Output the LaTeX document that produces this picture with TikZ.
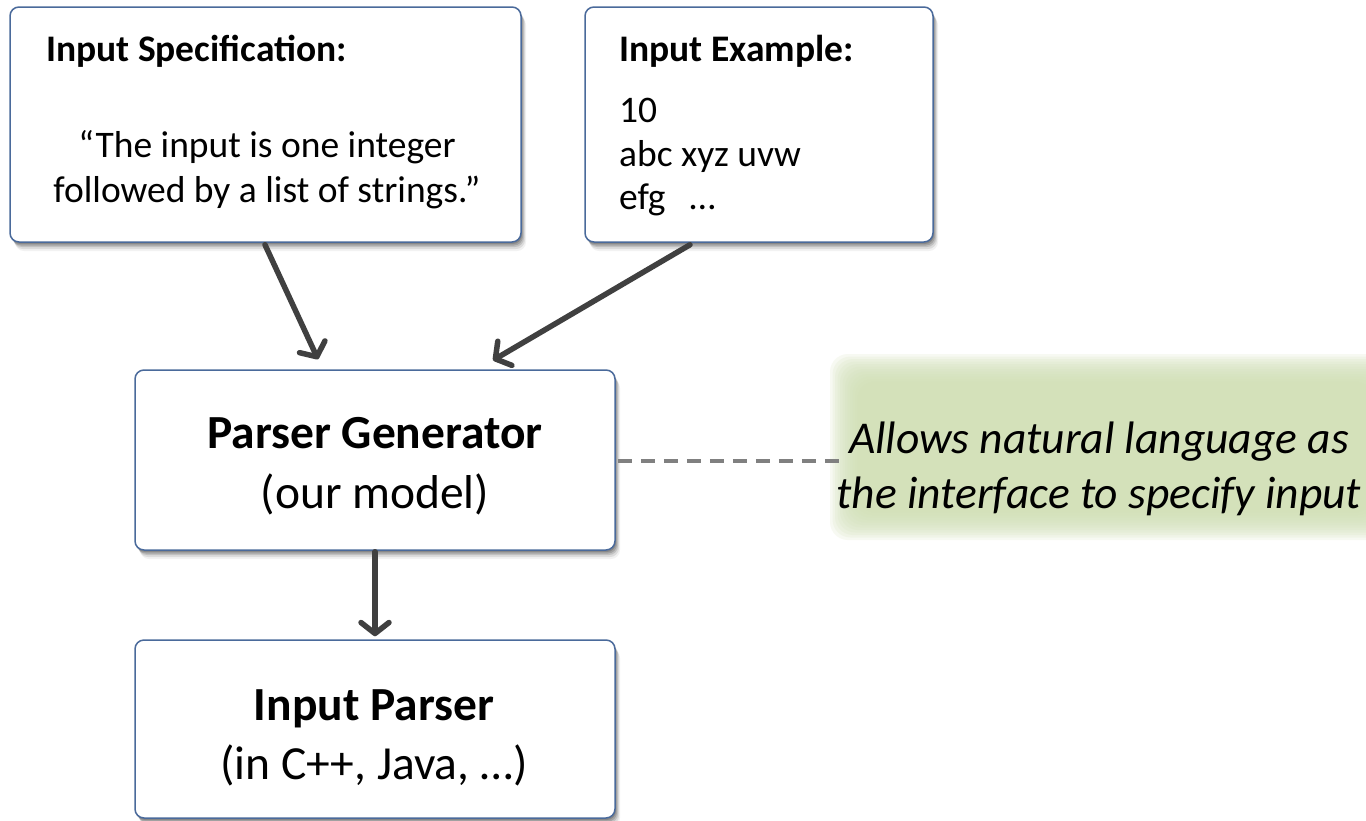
\documentclass[tikz,border=0pt]{standalone}
\usepackage{fontspec}
\setmainfont{Carlito}
\usetikzlibrary{arrows.meta,shadows}
\definecolor{boxblue}{HTML}{4A6A9B}
\definecolor{arrowgray}{HTML}{404040}
\definecolor{dashgray}{HTML}{808080}
\definecolor{notegreen}{HTML}{D2E1B5}
\begin{document}
\begin{tikzpicture}[x=1pt,y=-1pt,
  card/.style={draw=boxblue, line width=1.5pt, rounded corners=9pt, fill=white,
    inner sep=0pt,
    drop shadow={shadow xshift=1pt, shadow yshift=-2pt, opacity=0.16, fill=black},
    drop shadow={shadow xshift=2pt, shadow yshift=-3.5pt, opacity=0.15, fill=black},
    drop shadow={shadow xshift=3pt, shadow yshift=-5pt, opacity=0.12, fill=black},
    drop shadow={shadow xshift=4pt, shadow yshift=-7pt, opacity=0.09, fill=black},
    drop shadow={shadow xshift=5pt, shadow yshift=-9pt, opacity=0.05, fill=black}},
  flow/.style={draw=arrowgray, line width=5.5pt, line cap=round,
    -{Straight Barb[length=11pt,width=28pt,line cap=round,line join=round]}},
  smalltext/.style={font=\fontsize{37.5}{45}\selectfont, inner sep=0pt},
  bigtext/.style={font=\fontsize{47.5}{57}\selectfont, inner sep=0pt},
  notetext/.style={font=\fontsize{45.5}{55}\selectfont\itshape, inner sep=0pt},
  glow/.style={fill=notegreen, opacity=0.17, rounded corners=18pt}
]
\useasboundingbox (0,0) rectangle (1366,820);
\fill[white] (0,0) rectangle (1366,820);

% green soft note
\foreach \k in {0,...,11}{
  \path[glow] (830+2.5*\k,354+2.5*\k) rectangle (1400-2.5*\k,540-2.5*\k);
}
\node[minimum width=526pt, minimum height=168pt, inner sep=0pt] (note) at (1103,447) {};

% boxes
\node[card, minimum width=511pt, minimum height=235pt] (spec) at (265.5,124.5) {};
\node[card, minimum width=348pt, minimum height=235pt] (example) at (759,124.5) {};
\node[card, minimum width=480pt, minimum height=180pt] (gen) at (375,460) {};
\node[card, minimum width=480pt, minimum height=178pt] (parser) at (375,729) {};

% texts
\node[smalltext, anchor=base west] (specT) at (46,61) {\bfseries Input Specification:};
\node[smalltext, anchor=base] (specA) at (267,157) {“The input is one integer};
\node[smalltext, anchor=base] (specB) at (267,202) {followed by a list of strings.”};

\node[smalltext, anchor=base west] (exT) at (619,61) {\bfseries Input Example:};
\node[smalltext, anchor=base west] (exA) at (619,122) {10};
\node[smalltext, anchor=base west] (exB) at (619,166) {abc xyz uvw};
\node[smalltext, anchor=base west] (exC) at (619,209) {efg\hspace{24pt}…};

\node[bigtext, anchor=base] (genA) at (375,448) {\bfseries Parser Generator};
\node[bigtext, anchor=base] (genB) at (375,508) {(our model)};

\node[bigtext, anchor=base] (parA) at (374,720) {\bfseries Input Parser};
\node[bigtext, anchor=base] (parB) at (374,779) {(in C++, Java, …)};

\node[notetext, anchor=base] (noteA) at (1099,453) {Allows natural language as};
\node[notetext, anchor=base] (noteB) at (1099,508) {the interface to specify input};

% connectors
\draw[flow] ([xshift=-0.5pt,yshift=-2pt]spec.south) -- ([xshift=-57pt,yshift=10pt]gen.north);
\draw[flow] ([xshift=-69pt,yshift=-2pt]example.south) -- ([xshift=118pt,yshift=9pt]gen.north);
\draw[flow] ([yshift=-1pt]gen.south) -- ([yshift=3pt]parser.north);
\draw[dashgray, line width=3.5pt, dash pattern=on 14pt off 9pt] ([xshift=2pt,yshift=-1pt]gen.east) -- ([yshift=-14pt]note.west);
\end{tikzpicture}
\end{document}
